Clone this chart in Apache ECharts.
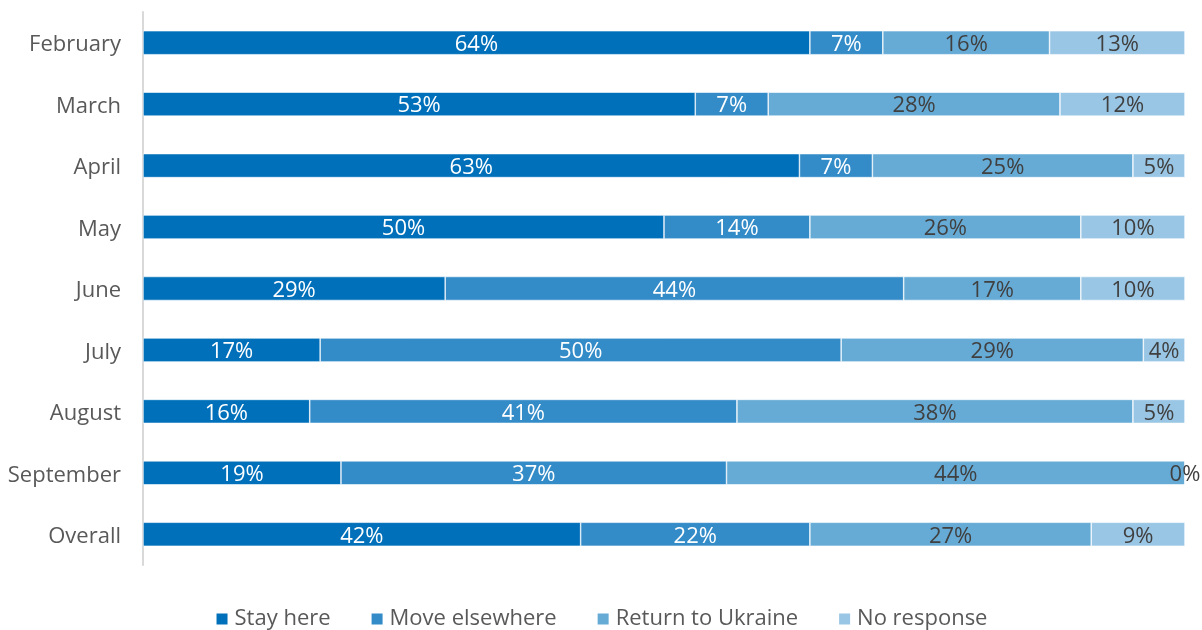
<!DOCTYPE html>
<html>
<head>
<meta charset="utf-8">
<script src="https://cdn.jsdelivr.net/npm/echarts@6/dist/echarts.min.js"></script>
<style>
  html, body { margin: 0; padding: 0; background: #fff; }
  #chart { width: 1202px; height: 630px; }
</style>
</head>
<body>
<div id="chart"></div>
<script>
// Monthly categories, top to bottom
const months = ['February', 'March', 'April', 'May', 'June', 'July', 'August', 'September', 'Overall'];

// Share of respondents (%) per intention
const stayHere        = [64, 53, 63, 50, 29, 17, 16, 19, 42];
const moveElsewhere   = [7, 7, 7, 14, 44, 50, 41, 37, 22];
const returnToUkraine = [16, 28, 25, 26, 17, 29, 38, 44, 27];
const noResponse      = [13, 12, 5, 10, 10, 4, 5, 0, 9];

const seriesNames  = ['Stay here', 'Move elsewhere', 'Return to Ukraine', 'No response'];
const seriesData   = [stayHere, moveElsewhere, returnToUkraine, noResponse];
const seriesColors = ['#0070ba', '#338bc8', '#66abd6', '#99c6e5'];
const labelColors  = ['#ffffff', '#ffffff', '#404040', '#404040'];

const FONT = '"Open Sans", "Noto Sans", sans-serif';

const chart = echarts.init(document.getElementById('chart'), null, { renderer: 'canvas' });

chart.setOption({
  animation: false,
  textStyle: { fontFamily: FONT },
  grid: { left: 143, right: 17, top: 12, height: 553, containLabel: false },
  legend: {
    top: 603,
    left: 'center',
    itemWidth: 13,
    itemHeight: 13,
    itemGap: 39,
    icon: 'rect',
    textStyle: { fontSize: 22, color: '#595959', fontFamily: FONT, padding: [0, 0, 0, 1] },
    data: seriesNames
  },
  xAxis: {
    type: 'value',
    min: 0,
    max: 100,
    show: false
  },
  yAxis: {
    type: 'category',
    data: months,
    inverse: true,
    axisLine: { show: true, lineStyle: { color: '#d9d9d9', width: 2 } },
    axisTick: { show: false },
    axisLabel: {
      color: '#595959',
      fontSize: 22,
      margin: 22,
      fontFamily: FONT,
      formatter: (v) => '{m|' + v + '}',
      rich: { m: { fontSize: 22, color: '#595959', fontFamily: FONT, padding: [5, 0, 0, 0] } }
    }
  },
  series: seriesNames.map((name, i) => ({
    name: name,
    type: 'bar',
    stack: 'total',
    barWidth: 24,
    data: seriesData[i],
    itemStyle: { color: seriesColors[i], borderColor: '#ffffff', borderWidth: 0.6 },
    label: {
      show: true,
      position: 'inside',
      formatter: '{c}%',
      color: labelColors[i],
      fontSize: 22,
      fontFamily: FONT,
      offset: [0, 2]
    }
  }))
});
</script>
</body>
</html>
